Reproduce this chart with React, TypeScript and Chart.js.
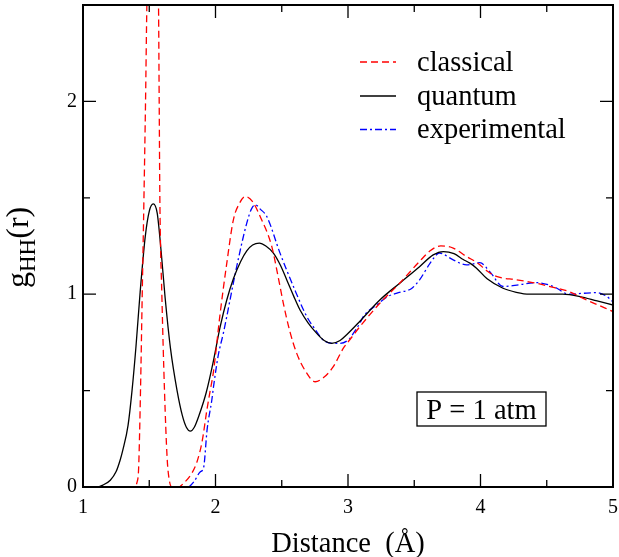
import React, { useEffect, useRef } from "react";
import { Chart, registerables } from "chart.js";

Chart.register(...registerables);

// ---- data ----
const classicalR = [1.0, 1.38, 1.41, 1.42, 1.434, 1.447, 1.46, 1.472, 1.482, 1.5, 1.525, 1.55, 1.57, 1.575, 1.58, 1.595, 1.615, 1.635, 1.65, 1.67, 1.72, 1.76, 1.82, 1.86, 1.9, 1.935, 1.96, 1.985, 2.035, 2.085, 2.135, 2.18, 2.225, 2.28, 2.337, 2.425, 2.47, 2.512, 2.56, 2.613, 2.68, 2.752, 2.82, 2.889, 2.965, 3.015, 3.09, 3.24, 3.39, 3.54, 3.62, 3.7, 3.794, 3.895, 3.98, 4.05, 4.12, 4.27, 4.42, 4.55, 4.67, 4.8, 4.9, 5.0];
const classicalG = [0, 0, 0.03, 0.1, 0.5, 1.0, 1.5, 2.0, 2.5, 3.0, 3.3, 3.0, 2.5, 2.0, 1.5, 1.0, 0.5, 0.15, 0.04, 0, 0, 0.02, 0.07, 0.13, 0.24, 0.4, 0.5, 0.6, 0.9, 1.16, 1.386, 1.47, 1.507, 1.48, 1.403, 1.247, 1.1, 0.953, 0.81, 0.693, 0.6, 0.546, 0.57, 0.624, 0.72, 0.765, 0.832, 0.953, 1.057, 1.17, 1.225, 1.251, 1.239, 1.195, 1.161, 1.12, 1.092, 1.075, 1.057, 1.035, 1.013, 0.97, 0.94, 0.91];

const quantumR = [1.0, 1.1, 1.15, 1.206, 1.25, 1.28, 1.3, 1.34, 1.37, 1.4, 1.43, 1.47, 1.5, 1.53, 1.56, 1.59, 1.62, 1.66, 1.71, 1.75, 1.78, 1.81, 1.84, 1.88, 1.93, 1.98, 2.035, 2.085, 2.135, 2.19, 2.236, 2.28, 2.331, 2.38, 2.437, 2.49, 2.538, 2.59, 2.638, 2.7, 2.764, 2.82, 2.877, 2.94, 2.99, 3.09, 3.24, 3.39, 3.54, 3.643, 3.72, 3.8, 3.87, 3.92, 3.97, 4.05, 4.17, 4.27, 4.37, 4.5, 4.62, 4.75, 4.88, 5.0];
const quantumG = [0, 0.0, 0.01, 0.035, 0.08, 0.139, 0.19, 0.32, 0.5, 0.73, 1.0, 1.3, 1.43, 1.468, 1.42, 1.22, 0.98, 0.72, 0.5, 0.37, 0.31, 0.29, 0.31, 0.38, 0.49, 0.64, 0.83, 0.97, 1.08, 1.17, 1.225, 1.255, 1.265, 1.25, 1.213, 1.15, 1.074, 0.99, 0.918, 0.85, 0.797, 0.76, 0.745, 0.76, 0.79, 0.86, 0.97, 1.057, 1.143, 1.204, 1.221, 1.21, 1.18, 1.161, 1.135, 1.08, 1.031, 1.01, 1.0, 1.0, 1.0, 0.988, 0.965, 0.944];

const experimentalR = [1.8, 1.84, 1.884, 1.91, 1.937, 1.972, 1.985, 2.02, 2.06, 2.16, 2.236, 2.27, 2.3, 2.34, 2.387, 2.487, 2.588, 2.689, 2.75, 2.814, 2.9, 2.94, 3.015, 3.04, 3.09, 3.115, 3.216, 3.3, 3.38, 3.48, 3.54, 3.62, 3.69, 3.794, 3.895, 3.97, 3.995, 4.07, 4.17, 4.3, 4.42, 4.55, 4.67, 4.78, 4.875, 4.95, 5.0];
const experimentalG = [0, 0.03, 0.078, 0.1, 0.3, 0.45, 0.52, 0.68, 0.8, 1.143, 1.369, 1.44, 1.464, 1.44, 1.403, 1.213, 1.04, 0.884, 0.82, 0.762, 0.745, 0.745, 0.771, 0.797, 0.85, 0.884, 0.944, 0.988, 1.008, 1.03, 1.074, 1.161, 1.213, 1.178, 1.152, 1.161, 1.164, 1.117, 1.04, 1.05, 1.06, 1.04, 1.0, 1.005, 1.008, 0.99, 0.96];

const seriesLabels = ["classical", "quantum", "experimental"];
const xMajorTicks = [1, 2, 3, 4, 5];
const xMinorTicks = [1.5, 2.5, 3.5, 4.5];
const yMajorTicks = [0, 1, 2];
const yMinorTicks = [0.5, 1.5];
const xTitle = "Distance  (\u00C5)";
const pressureLabel = "P = 1 atm";

const SERIF = "'Liberation Serif', 'DejaVu Serif', serif";
const BIG = 28.5;

function pts(rs: number[], gs: number[]) {
  return rs.map((r, i) => ({ x: r, y: gs[i] }));
}

const decorPlugin = {
  id: "decor",
  afterDraw(chart: any) {
    const ctx = chart.ctx as CanvasRenderingContext2D;
    const { left, right, top, bottom } = chart.chartArea;
    const xs = chart.scales.x;
    const ys = chart.scales.y;
    ctx.save();
    ctx.strokeStyle = "#000";
    ctx.setLineDash([]);
    // ticks
    ctx.lineWidth = 1.3;
    const major = 13;
    const minor = 7;
    const drawX = (v: number, len: number) => {
      const p = xs.getPixelForValue(v);
      ctx.beginPath();
      ctx.moveTo(p, bottom);
      ctx.lineTo(p, bottom - len);
      ctx.moveTo(p, top);
      ctx.lineTo(p, top + len);
      ctx.stroke();
    };
    const drawY = (v: number, len: number) => {
      const p = ys.getPixelForValue(v);
      ctx.beginPath();
      ctx.moveTo(left, p);
      ctx.lineTo(left + len, p);
      ctx.moveTo(right, p);
      ctx.lineTo(right - len, p);
      ctx.stroke();
    };
    xMajorTicks.forEach((v) => drawX(v, major));
    xMinorTicks.forEach((v) => drawX(v, minor));
    yMajorTicks.forEach((v) => drawY(v, major));
    yMinorTicks.forEach((v) => drawY(v, minor));
    // frame
    ctx.lineWidth = 2;
    ctx.strokeRect(left, top, right - left, bottom - top);

    // legend
    const rowsLine = [62, 96, 129.5];
    const rowsText = [71, 104.5, 138];
    chart.data.datasets.forEach((ds: any, i: number) => {
      ctx.save();
      ctx.strokeStyle = ds.borderColor;
      ctx.lineWidth = ds.borderWidth;
      ctx.setLineDash(ds.borderDash || []);
      ctx.beginPath();
      ctx.moveTo(360, rowsLine[i]);
      ctx.lineTo(396, rowsLine[i]);
      ctx.stroke();
      ctx.restore();
      ctx.fillStyle = "#000";
      ctx.font = `${BIG}px ${SERIF}`;
      ctx.textAlign = "left";
      ctx.textBaseline = "alphabetic";
      ctx.fillText(ds.label, 417, rowsText[i]);
    });

    // pressure box
    ctx.lineWidth = 1.3;
    ctx.strokeRect(417, 392, 129, 34);
    ctx.font = `${BIG}px ${SERIF}`;
    ctx.textAlign = "center";
    ctx.textBaseline = "alphabetic";
    ctx.fillText(pressureLabel, 481.5, 418.5);

    // x title
    ctx.font = `${BIG}px ${SERIF}`;
    ctx.textAlign = "center";
    ctx.fillText(xTitle, (left + right) / 2, 551.5);

    // y title g_HH(r), rotated
    ctx.save();
    ctx.translate(28, 288);
    ctx.rotate(-Math.PI / 2);
    ctx.textAlign = "left";
    ctx.textBaseline = "alphabetic";
    ctx.font = `32px ${SERIF}`;
    ctx.fillText("g", 0, 0);
    let w = ctx.measureText("g").width;
    ctx.font = `23px ${SERIF}`;
    ctx.fillText("HH", w, 7);
    w += ctx.measureText("HH").width;
    ctx.font = `32px ${SERIF}`;
    ctx.fillText("(r)", w, 0);
    ctx.restore();

    ctx.restore();
  },
};

export default function App() {
  const ref = useRef<HTMLCanvasElement | null>(null);
  useEffect(() => {
    if (!ref.current) return;
    const chart = new Chart(ref.current, {
      type: "line",
      data: {
        datasets: [
          {
            label: seriesLabels[0],
            data: pts(classicalR, classicalG),
            borderColor: "#ff0000",
            borderWidth: 1.3,
            borderDash: [7, 4],
            pointRadius: 0,
            cubicInterpolationMode: "monotone",
            fill: false,
          },
          {
            label: seriesLabels[1],
            data: pts(quantumR, quantumG),
            borderColor: "#000000",
            borderWidth: 1.3,
            borderDash: [],
            pointRadius: 0,
            cubicInterpolationMode: "monotone",
            fill: false,
          },
          {
            label: seriesLabels[2],
            data: pts(experimentalR, experimentalG),
            borderColor: "#0000ff",
            borderWidth: 1.3,
            borderDash: [7, 3, 2, 3],
            pointRadius: 0,
            cubicInterpolationMode: "monotone",
            fill: false,
          },
        ],
      },
      options: {
        animation: false,
        responsive: false,
        maintainAspectRatio: false,
        parsing: false as any,
        layout: { autoPadding: false, padding: { left: 0, top: 5, right: 6, bottom: 0 } },
        plugins: {
          legend: { display: false },
          tooltip: { enabled: false },
          title: { display: false },
        },
        scales: {
          x: {
            type: "linear",
            min: 1,
            max: 5,
            grid: { display: false, drawTicks: false },
            border: { display: false },
            ticks: {
              stepSize: 1,
              padding: 9,
              color: "#000",
              font: { family: SERIF, size: 20 },
              maxRotation: 0,
              includeBounds: false,
              callback: (v: any) => (Number.isInteger(v) ? String(v) : ""),
            },
            afterFit: (s: any) => {
              s.height = 70;
              s.paddingLeft = 0;
              s.paddingRight = 0;
              s.paddingTop = 0;
              s.paddingBottom = 0;
            },
          },
          y: {
            type: "linear",
            min: 0,
            max: 2.5,
            grid: { display: false, drawTicks: false },
            border: { display: false },
            ticks: {
              stepSize: 1,
              padding: 6,
              color: "#000",
              font: { family: SERIF, size: 20 },
              includeBounds: false,
              callback: (v: any) => (Number.isInteger(v) ? String(v) : ""),
            },
            afterFit: (s: any) => {
              s.width = 83;
              s.paddingLeft = 0;
              s.paddingRight = 0;
              s.paddingTop = 0;
              s.paddingBottom = 0;
            },
          },
        },
      } as any,
      plugins: [decorPlugin],
    });
    return () => chart.destroy();
  }, []);
  return (
    <div style={{ position: "absolute", left: 0, top: 0, width: 619, height: 557, background: "#fff" }}>
      <canvas ref={ref} width={619} height={557} style={{ display: "block", width: 619, height: 557 }} />
    </div>
  );
}
